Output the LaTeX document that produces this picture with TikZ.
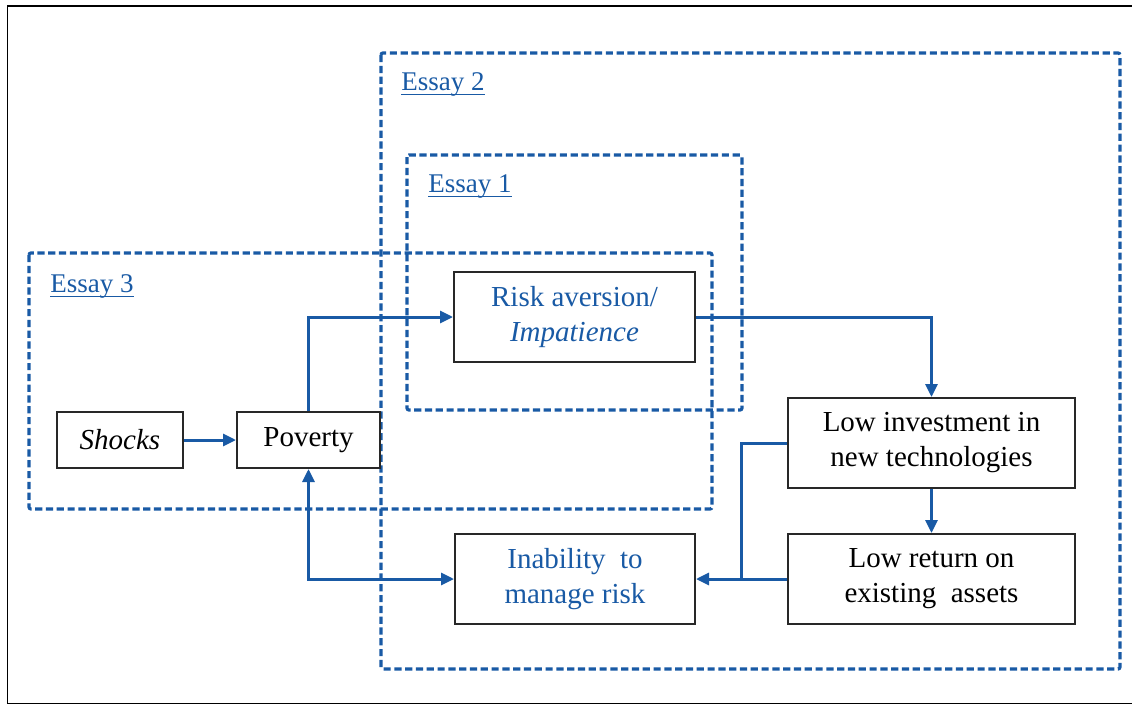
\documentclass[tikz,border=0pt]{standalone}
\usepackage{fontspec}
\setmainfont{Liberation Serif}
\usetikzlibrary{arrows.meta}
\definecolor{essayblue}{RGB}{25,90,165}
\definecolor{boxline}{RGB}{40,40,40}
\tikzset{
  tip/.tip={Triangle[length=6.5pt,width=6pt]},
  essaybox/.style={draw=essayblue, line width=1.6pt, dash pattern=on 3.6pt off 1.8pt, rounded corners=1pt},
  essaylabel/.style={anchor=base west, inner sep=0pt, text=essayblue, font=\fontsize{13.5pt}{16pt}\selectfont},
  stepbox/.style={draw=boxline, line width=1pt, fill=white, align=center, inner sep=2pt,
    font=\fontsize{14.5pt}{17.5pt}\selectfont, minimum height=28pt},
  tallbox/.style={stepbox, minimum height=45pt},
  flow/.style={draw=essayblue, line width=1.5pt, -tip},
  link/.style={draw=essayblue, line width=1.5pt},
  frame/.style={draw=black, line width=0.8pt}
}
\begin{document}
\begin{tikzpicture}[x=0.5pt, y=-0.5pt]
  \clip (0,0) rectangle (1132,707);
  \fill[white] (0,0) rectangle (1132,707);
  % outer frame
  \draw[frame] (1140,6) -- (7.5,6) -- (7.5,703.5) -- (1140,703.5);

  % essay regions
  \draw[essaybox] (381,53) rectangle (1120,669);
  \draw[essaybox] (407,155) rectangle (742,410);
  \draw[essaybox] (29,253) rectangle (712,509);

  \node[essaylabel] (e2) at (401,90) {Essay 2};
  \node[essaylabel] (e1) at (428,192) {Essay 1};
  \node[essaylabel] (e3) at (50,292) {Essay 3};
  \foreach \lab in {e1,e2,e3}
    \draw[essayblue, line width=0.6pt] ([yshift=-2.3pt]\lab.base west) -- ([yshift=-2.3pt]\lab.base east);

  % boxes
  \node[stepbox, minimum width=63pt] (shocks) at (120,440) {\itshape Shocks};
  \node[stepbox, minimum width=71.5pt] (poverty) at (308.5,440) {Poverty};
  \node[tallbox, minimum width=120.5pt, text=essayblue] (risk) at (574.5,317) {Risk aversion/\\\itshape Impatience};
  \node[tallbox, minimum width=120pt, text=essayblue] (inab) at (575,579) {Inability\ \ to\\manage risk};
  \node[tallbox, minimum width=143.5pt] (lowinv) at (931.5,443) {Low investment in\\new technologies};
  \node[tallbox, minimum width=143.5pt] (lowret) at (931.5,579) {Low return on\\existing\ \ assets};

  % connectors
  \coordinate (join) at (741,579);
  \draw[flow] (shocks) -- (poverty);
  \draw[flow] (poverty.north) |- (risk.west);
  \draw[flow] (risk.east) -| (lowinv.north);
  \draw[flow] (lowinv) -- (lowret);
  \draw[flow] (lowret.west) -- (inab.east);
  \draw[link] (lowinv.west) -| (join);
  \draw[flow, tip-tip] (poverty.south) |- (inab.west);
\end{tikzpicture}
\end{document}
